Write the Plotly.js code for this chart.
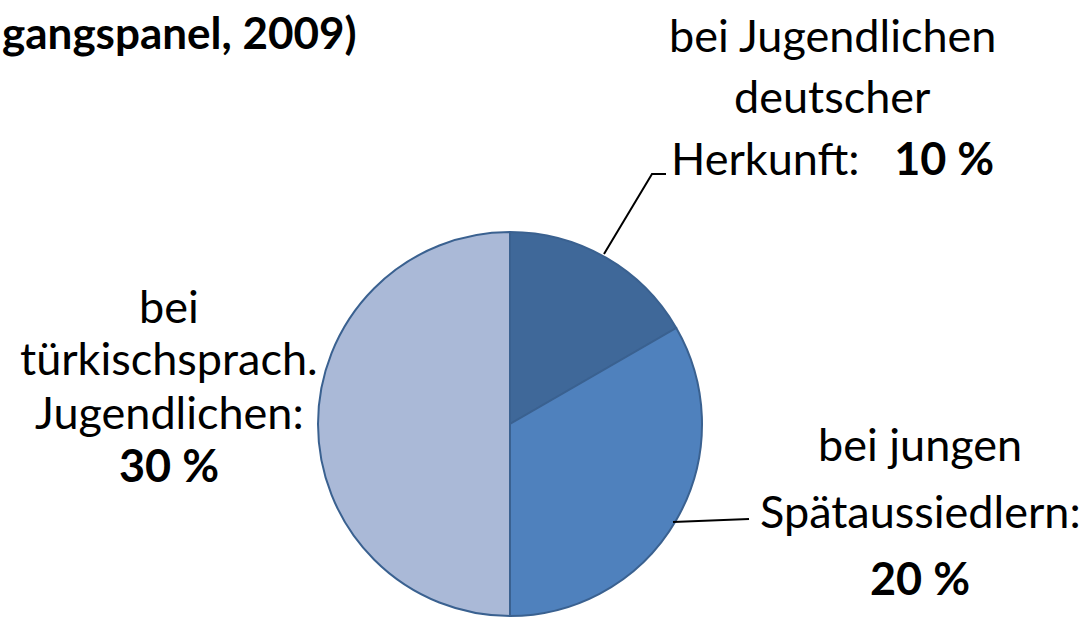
<!DOCTYPE html>
<html>
<head>
<meta charset="utf-8">
<script src="https://cdn.plot.ly/plotly-3.0.1.min.js"></script>
<style>html,body{margin:0;padding:0;background:#fff;}#chart{width:1088px;height:618px;}</style>
</head>
<body>
<div id="chart"></div>
<script>
// Data
const categories = ["bei Jugendlichen deutscher Herkunft", "bei jungen Spätaussiedlern", "bei türkischsprach. Jugendlichen"];
const values = [10, 20, 30];
const sliceColors = ["#3F6899", "#4F81BD", "#AAB9D7"];
const titleText = "gangspanel, 2009)";
const labelLines = [
  ["bei Jugendlichen", "deutscher", "Herkunft:   <b>10 %</b>"],
  ["bei jungen", "Spätaussiedlern:", "<b>20 %</b>"],
  ["bei", "türkischsprach.", "Jugendlichen:", "<b>30 %</b>"]
];

const W = 1088, H = 618;
const px = x => x / W;
const py = y => 1 - y / H;

// label layout (pixel centres of each line)
const labelPos = [
  {x: 832, ys: [35, 96, 158]},
  {x: 920, ys: [444, 511, 578]},
  {x: 169, ys: [306, 358, 412, 465]}
];

const annotations = [];
labelLines.forEach((lines, i) => {
  lines.forEach((t, j) => {
    annotations.push({
      text: t, xref: 'paper', yref: 'paper',
      x: px(labelPos[i].x), y: py(labelPos[i].ys[j]),
      xanchor: 'center', yanchor: 'middle', showarrow: false,
      font: {family: 'Lato, "Open Sans", sans-serif', size: 45, color: '#000'}
    });
  });
});
annotations.push({
  text: '<b>' + titleText + '</b>', xref: 'paper', yref: 'paper',
  x: px(359), y: py(32), xanchor: 'right', yanchor: 'middle', showarrow: false,
  font: {family: 'Lato, "Open Sans", sans-serif', size: 44, color: '#000'}
});

const shapes = [
  {type: 'path', xref: 'paper', yref: 'paper',
   path: `M ${px(604)} ${py(254)} L ${px(652)} ${py(174)} L ${px(666)} ${py(174)}`,
   line: {color: '#000', width: 2}},
  {type: 'path', xref: 'paper', yref: 'paper',
   path: `M ${px(673)} ${py(522)} L ${px(749)} ${py(519)}`,
   line: {color: '#000', width: 2}}
];

const trace = {
  type: 'pie',
  labels: categories,
  values: values,
  sort: false,
  direction: 'clockwise',
  rotation: 0,
  textinfo: 'none',
  hoverinfo: 'label+value',
  marker: {colors: sliceColors, line: {color: '#3A6190', width: 2}},
  domain: {x: [px(318), px(702)], y: [py(616), py(232)]},
  showlegend: false
};

Plotly.newPlot('chart', [trace], {
  width: W, height: H,
  margin: {l: 0, r: 0, t: 0, b: 0},
  paper_bgcolor: '#fff',
  showlegend: false,
  annotations: annotations,
  shapes: shapes
}, {displayModeBar: false, staticPlot: true});
</script>
</body>
</html>
